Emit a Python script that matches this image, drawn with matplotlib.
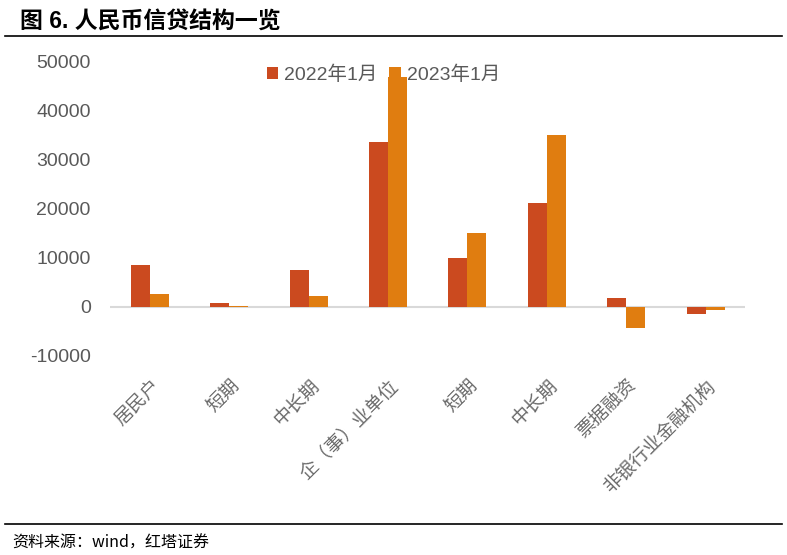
import numpy as np
import matplotlib.pyplot as plt

plt.rcParams['font.family'] = ['Liberation Sans', 'Noto Sans CJK SC', 'DejaVu Sans']
plt.rcParams['axes.unicode_minus'] = False

# 数据
categories = ['居民户', '短期', '中长期', '企（事）业单位', '短期', '中长期', '票据融资', '非银行业金融机构']
series_names = ['2022年1月', '2023年1月']
v2022 = [8400, 800, 7400, 33600, 10000, 21000, 1700, -1500]
v2023 = [2500, 200, 2100, 46800, 14900, 35000, -4300, -700]
yticks = [-10000, 0, 10000, 20000, 30000, 40000, 50000]

c_red = '#CB4A1F'
c_orange = '#E07D10'
c_text = '#595959'

fig = plt.figure(figsize=(7.87, 5.55), dpi=100)
ax = fig.add_axes([0.140, 0.359, 0.807, 0.531])

x = np.arange(len(categories))
w = 0.24
ax.bar(x - w / 2, v2022, w, color=c_red, label=series_names[0])
ax.bar(x + w / 2, v2023, w, color=c_orange, label=series_names[1])

ax.set_xlim(-0.5, len(categories) - 0.5)
ax.set_ylim(-10000, 50000)
ax.set_yticks(yticks)
ax.set_yticklabels([str(t) for t in yticks], fontsize=14, color=c_text)
ax.tick_params(axis='y', length=0, pad=14)
ax.tick_params(axis='x', length=0, pad=14)
ax.set_xticks(x)
ax.set_xticklabels(categories, rotation=45, ha='right', rotation_mode='anchor',
                   fontsize=13.5, color='#6a6a6a', family=['Noto Sans CJK SC'])
for s in ['top', 'right', 'left', 'bottom']:
    ax.spines[s].set_visible(False)
ax.axhline(0, color='#D9D9D9', lw=1.5, zorder=0, xmin=-0.007)

leg = ax.legend(loc='upper center', bbox_to_anchor=(0.43, 1.045), ncol=2, frameon=False,
                fontsize=14, handlelength=0.6, handleheight=0.6, handletextpad=0.3,
                columnspacing=0.6)
for t in leg.get_texts():
    t.set_color(c_text)

# 标题和来源
fig.text(0.025, 0.962, '图 6. 人民币信贷结构一览', fontsize=16.5, fontweight='bold',
         va='center', ha='left', family=['Liberation Sans', 'Noto Sans CJK SC'])
fig.add_artist(plt.Line2D([0.006, 0.994], [0.935, 0.935], color='black', lw=1.2))
fig.add_artist(plt.Line2D([0.006, 0.994], [0.056, 0.056], color='black', lw=1.2))
fig.text(0.016, 0.021, '资料来源：wind，红塔证券', fontsize=11.5, va='center', ha='left',
         family=['Noto Sans CJK SC'])

plt.savefig('out.png', dpi=100)
